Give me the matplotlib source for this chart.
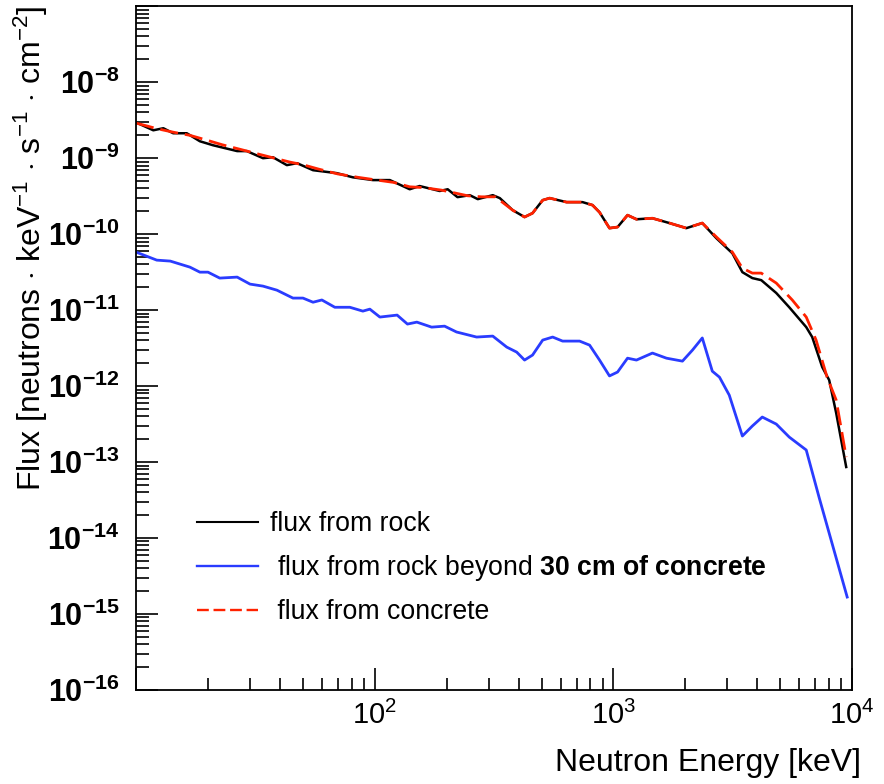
import matplotlib
matplotlib.use("Agg")
import matplotlib.pyplot as plt
import numpy as np
from matplotlib.ticker import LogLocator, FuncFormatter, NullFormatter
from matplotlib.lines import Line2D

plt.rcParams['font.family'] = ['Liberation Sans', 'DejaVu Sans']
plt.rcParams['mathtext.fontset'] = 'custom'
plt.rcParams['mathtext.rm'] = 'Liberation Sans'
plt.rcParams['mathtext.it'] = 'Liberation Sans:italic'
plt.rcParams['mathtext.bf'] = 'Liberation Sans:bold'

# energia [keV] y flujo de roca
e_roca = [10, 11.8, 13.0, 14.3, 16.3, 18.5, 21.0, 26.5, 29.1, 34.0, 37.4, 42.8, 47.2, 55.1,
          69.4, 80.9, 98.2, 115.6, 140, 154, 187, 202, 222, 250, 270, 312, 334, 378, 424,
          458, 505, 540, 636, 742, 817, 874, 962, 1040, 1145, 1248, 1456, 1715, 2020, 2355,
          2697, 3148, 3467, 3817, 4160, 4808, 5450, 6420, 6800, 7490, 8010, 8570, 9440]
f_roca = [2.95e-9, 2.33e-9, 2.48e-9, 2.13e-9, 2.13e-9, 1.67e-9, 1.48e-9, 1.24e-9, 1.24e-9,
          1.0e-9, 1.03e-9, 8.1e-10, 8.6e-10, 6.95e-10, 6.35e-10, 5.6e-10, 5.15e-10, 5.15e-10,
          3.9e-10, 4.3e-10, 3.7e-10, 3.9e-10, 3.07e-10, 3.26e-10, 2.89e-10, 3.26e-10, 2.98e-10,
          2.07e-10, 1.68e-10, 1.89e-10, 2.8e-10, 2.98e-10, 2.64e-10, 2.64e-10, 2.41e-10,
          1.94e-10, 1.2e-10, 1.24e-10, 1.78e-10, 1.57e-10, 1.62e-10, 1.4e-10, 1.2e-10, 1.4e-10,
          8.85e-11, 5.6e-11, 3.16e-11, 2.64e-11, 2.48e-11, 1.68e-11, 1.09e-11, 5.97e-12,
          4.42e-12, 1.78e-12, 1.2e-12, 4.42e-13, 8.6e-14]

# flujo del hormigon
e_horm = [10, 12.2, 14.3, 16.8, 19.5, 23.0, 27.5, 33.0, 38.0, 44.0, 50.0, 58.0, 70.0, 85.0,
          100, 120, 140, 160, 190, 215, 245, 280, 320, 378, 424, 458, 505, 540, 636, 742,
          817, 874, 962, 1040, 1145, 1248, 1456, 1715, 2020, 2355, 2697, 3148, 3467, 3817,
          4160, 4808, 5610, 6420, 7060, 7850, 8570, 9440]
f_horm = [2.9e-9, 2.45e-9, 2.2e-9, 2.0e-9, 1.75e-9, 1.5e-9, 1.3e-9, 1.12e-9, 1.0e-9, 8.9e-10,
          8.2e-10, 7.2e-10, 6.2e-10, 5.6e-10, 5.2e-10, 4.8e-10, 4.2e-10, 4.1e-10, 3.8e-10,
          3.5e-10, 3.2e-10, 3.1e-10, 3.1e-10, 2.07e-10, 1.68e-10, 1.89e-10, 2.8e-10, 2.98e-10,
          2.64e-10, 2.64e-10, 2.41e-10, 1.94e-10, 1.2e-10, 1.24e-10, 1.78e-10, 1.57e-10,
          1.62e-10, 1.4e-10, 1.2e-10, 1.4e-10, 9.2e-11, 5.8e-11, 3.57e-11, 3.07e-11, 3.07e-11,
          2.27e-11, 1.36e-11, 8.1e-12, 4.03e-12, 1.31e-12, 6.55e-13, 1.16e-13]

# flujo de roca detras de 30 cm de hormigon
e_blind = [10, 12.2, 13.9, 16.8, 18.5, 20.0, 22.4, 26.5, 30.0, 34.0, 38.9, 45.4, 50.0, 55.1,
           60.0, 68.0, 78.6, 89.1, 95.3, 105, 124, 137, 150, 173, 196, 220, 267, 312, 357,
           393, 424, 458, 505, 556, 612, 721, 794, 874, 962, 1040, 1145, 1248, 1456, 1667,
           1945, 2143, 2355, 2594, 2780, 3055, 3467, 3817, 4200, 4808, 5450, 6420, 7280, 9530]
f_blind = [5.8e-11, 4.55e-11, 4.42e-11, 3.68e-11, 3.16e-11, 3.16e-11, 2.64e-11, 2.72e-11,
           2.2e-11, 2.07e-11, 1.83e-11, 1.44e-11, 1.44e-11, 1.27e-11, 1.36e-11, 1.09e-11,
           1.09e-11, 9.7e-12, 1.03e-11, 8.1e-12, 8.6e-12, 6.55e-12, 6.95e-12, 5.97e-12,
           6.15e-12, 5.15e-12, 4.42e-12, 4.55e-12, 3.26e-12, 2.8e-12, 2.2e-12, 2.56e-12,
           4.03e-12, 4.42e-12, 3.91e-12, 3.91e-12, 3.46e-12, 2.2e-12, 1.36e-12, 1.53e-12,
           2.33e-12, 2.2e-12, 2.72e-12, 2.33e-12, 2.13e-12, 2.98e-12, 4.3e-12, 1.57e-12,
           1.31e-12, 7.6e-13, 2.2e-13, 2.98e-13, 3.91e-13, 3.16e-13, 2.13e-13, 1.44e-13,
           3.36e-14, 1.67e-15]

fig = plt.figure(figsize=(8.84, 7.84), dpi=100)
ax = fig.add_axes([0.154, 0.120, 0.810, 0.872])

ax.plot(e_roca, f_roca, color='black', lw=1.8)
ax.plot(e_blind, f_blind, color='#2a3cff', lw=2.0)
ax.plot(e_horm, f_horm, color='#ff2200', lw=2.0, dashes=(6.5, 2.5))

ax.set_xscale('log')
ax.set_yscale('log')
ax.set_xlim(10, 1e4)
ax.set_ylim(1e-16, 1e-7)

ax.xaxis.set_major_locator(LogLocator(base=10, numticks=10))
ax.xaxis.set_minor_locator(LogLocator(base=10, subs=np.arange(2, 10), numticks=10))
ax.yaxis.set_major_locator(LogLocator(base=10, numticks=20))
ax.yaxis.set_minor_locator(LogLocator(base=10, subs=np.arange(2, 10), numticks=20))

def fmt_x(v, pos):
    p = int(round(np.log10(v)))
    if p == 1:
        return ''
    return r'$10^{%d}$' % p

def fmt_y(v, pos):
    p = int(round(np.log10(v)))
    if p == -7:
        return ''
    return r'$\mathbf{10^{%d}}$' % p

ax.xaxis.set_major_formatter(FuncFormatter(fmt_x))
ax.yaxis.set_major_formatter(FuncFormatter(fmt_y))
ax.xaxis.set_minor_formatter(NullFormatter())
ax.yaxis.set_minor_formatter(NullFormatter())

ax.tick_params(which='both', direction='in', top=False, right=False, width=1.2)
ax.tick_params(which='major', length=16)
ax.tick_params(which='minor', length=9)
ax.tick_params(axis='x', labelsize=21, pad=8)
ax.tick_params(axis='y', labelsize=22, pad=12)
for s in ax.spines.values():
    s.set_linewidth(1.3)

ax.set_xlabel('Neutron Energy [keV]', fontsize=23, loc='right')
ax.xaxis.set_label_coords(1.013, -0.085)
ax.set_ylabel(r'Flux [neutrons $\cdot$ keV$^{-1}$ $\cdot$ s$^{-1}$ $\cdot$ cm$^{-2}$]',
              fontsize=23, loc='top')
ax.yaxis.set_label_coords(-0.12, 1.0)

handles = [Line2D([], [], color='black', lw=1.5),
           Line2D([], [], color='#2a3cff', lw=1.7),
           Line2D([], [], color='#ff2200', lw=1.7, dashes=(5, 2))]
labels = ['flux from rock',
          r' flux from rock beyond $\mathbf{30\ cm\ of\ concrete}$',
          ' flux from concrete']
ax.legend(handles, labels, loc='upper left', bbox_to_anchor=(0.051, 0.297),
          frameon=False, fontsize=19.2, handlelength=2.3, handletextpad=0.45,
          labelspacing=0.6)

fig.savefig('out.png', dpi=100)
